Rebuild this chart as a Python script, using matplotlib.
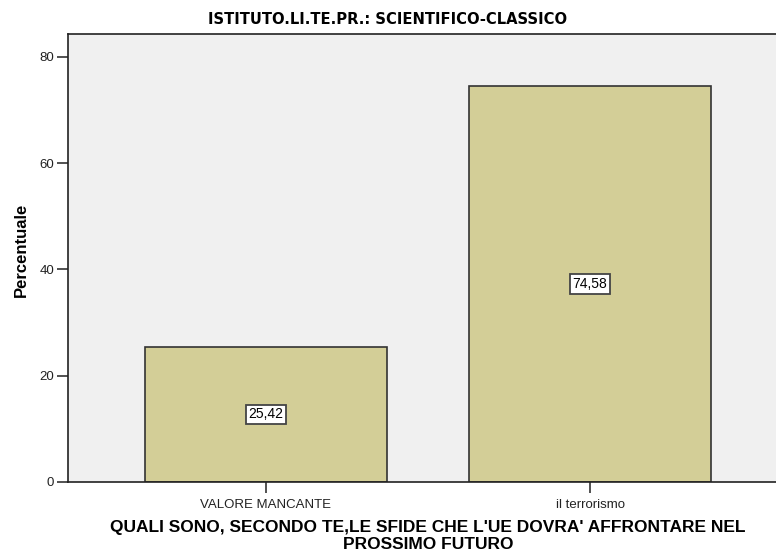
import matplotlib.pyplot as plt

categories = ["VALORE MANCANTE", "il terrorismo"]
values = [25.42, 74.58]
value_labels = ["25,42", "74,58"]
yticks = [0, 20, 40, 60, 80]

plt.rcParams['font.family'] = ['Liberation Sans', 'DejaVu Sans']

fig = plt.figure(figsize=(7.76, 5.56), dpi=100)
ax = fig.add_axes([0.0876, 0.1331, 0.928, 0.8057])
ax.set_facecolor("#F0F0F0")

x = list(range(len(categories)))
ax.bar(x, values, width=0.747, color="#D3CE97", edgecolor="#333333", linewidth=1.2)

for xi, v, lab in zip(x, values, value_labels):
    ax.text(xi, v / 2, lab, ha="center", va="center", fontsize=10,
            bbox=dict(boxstyle="square,pad=0.2", facecolor="white",
                      edgecolor="#444444", linewidth=1.3))

ax.set_xlim(-0.611, 1.611)
ax.set_ylim(0, 84.3)
ax.set_xticks(x)
ax.set_xticklabels(categories, fontsize=9.5, color="#222222")
ax.set_yticks(yticks)
ax.set_yticklabels([str(t) for t in yticks], fontsize=9.5, color="#222222")
ax.tick_params(direction="out", length=8, width=1.2, color="#333333", pad=2)
ax.tick_params(axis="x", pad=4)

for s in ax.spines.values():
    s.set_linewidth(1.2)
    s.set_color("#222222")

ax.set_ylabel("Percentuale", fontsize=12, fontweight="bold")
ax.yaxis.set_label_coords(-0.054, 0.518)
ax.set_xlabel("QUALI SONO, SECONDO TE,LE SFIDE CHE L'UE DOVRA' AFFRONTARE NEL\nPROSSIMO FUTURO",
              fontsize=12.5, fontweight="bold", linespacing=1.15, labelpad=7)

fig.text(0.5, 0.965, "ISTITUTO.LI.TE.PR.: SCIENTIFICO-CLASSICO", ha="center", va="center",
         fontsize=10.6, fontweight="bold", family=["DejaVu Sans"])

fig.savefig("out.png", dpi=100)
